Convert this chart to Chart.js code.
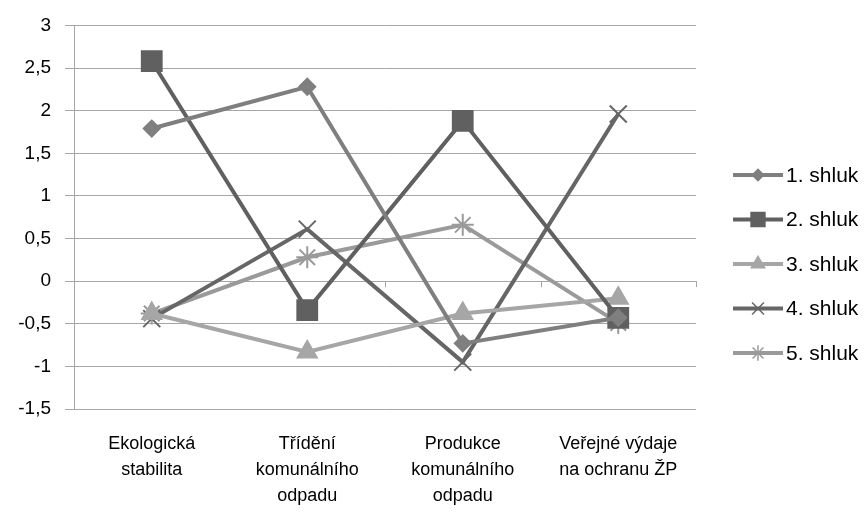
<!DOCTYPE html>
<html>
<head>
<meta charset="utf-8">
<script src="https://cdn.jsdelivr.net/npm/chart.js@4"></script>
<style>
  html, body { margin: 0; padding: 0; background: #fff; }
  #wrap { width: 866px; height: 513px; }
</style>
</head>
<body>
<div id="wrap"><canvas id="chart" width="866" height="513"></canvas></div>
<script>
// data
const categories = [
  ["Ekologická", "stabilita"],
  ["Třídění", "komunálního", "odpadu"],
  ["Produkce", "komunálního", "odpadu"],
  ["Veřejné výdaje", "na ochranu ŽP"]
];
const seriesNames = ["1. shluk", "2. shluk", "3. shluk", "4. shluk", "5. shluk"];
const shluk1 = [1.79, 2.28, -0.73, -0.43];
const shluk2 = [2.58, -0.34, 1.88, -0.43];
const shluk3 = [-0.38, -0.83, -0.38, -0.20];
const shluk4 = [-0.44, 0.61, -0.95, 1.96];
const shluk5 = [-0.38, 0.28, 0.66, -0.49];
const yTicks = [-1.5, -1, -0.5, 0, 0.5, 1, 1.5, 2, 2.5, 3];

const FONT = "'Liberation Sans', Arial, sans-serif";
const looks = [
  { color: "#7f7f7f", point: "rectRot", radius: 8 },
  { color: "#606060", point: "rect", radius: 14 },
  { color: "#a6a6a6", point: "triangle", radius: 11 },
  { color: "#666666", point: "crossRot", radius: 12 },
  { color: "#9a9a9a", point: "star", radius: 11 }
];
const values = [shluk1, shluk2, shluk3, shluk4, shluk5];

const datasets = values.map((data, i) => ({
  label: seriesNames[i],
  data,
  borderColor: looks[i].color,
  backgroundColor: looks[i].color,
  pointBorderColor: looks[i].color,
  pointBackgroundColor: looks[i].color,
  pointStyle: looks[i].point,
  pointRadius: looks[i].radius,
  pointBorderWidth: 2,
  borderWidth: 4,
  tension: 0
}));

// legend on the right: line with the marker in the middle, then the name
const sideLegend = {
  id: "sideLegend",
  afterDraw(chart) {
    const ctx = chart.ctx;
    const x0 = 733, x1 = 783, top = 175, gap = 44.5;
    ctx.save();
    chart.data.datasets.forEach((ds, i) => {
      const y = top + i * gap;
      ctx.strokeStyle = ds.borderColor;
      ctx.lineWidth = 4;
      ctx.beginPath();
      ctx.moveTo(x0, y);
      ctx.lineTo(x1, y);
      ctx.stroke();
      ctx.fillStyle = ds.pointBackgroundColor;
      ctx.strokeStyle = ds.pointBorderColor;
      ctx.lineWidth = 1.5;
      Chart.helpers.drawPoint(ctx, { pointStyle: ds.pointStyle, radius: ds.pointRadius * 0.7, borderWidth: 1.5 }, (x0 + x1) / 2, y);
      ctx.fillStyle = "#000";
      ctx.font = "21px " + FONT;
      ctx.textBaseline = "middle";
      ctx.textAlign = "left";
      ctx.fillText(ds.label, x1 + 3, y + 1);
    });
    ctx.restore();
  }
};

// small tick marks of the category axis, which crosses at zero
const zeroAxisTicks = {
  id: "zeroAxisTicks",
  beforeDatasetsDraw(chart) {
    const { ctx, chartArea, scales } = chart;
    const y = scales.y.getPixelForValue(0);
    const step = (chartArea.right - chartArea.left) / categories.length;
    ctx.save();
    ctx.strokeStyle = "#a6a6a6";
    ctx.lineWidth = 1;
    for (let k = 0; k <= categories.length; k++) {
      const x = Math.round(chartArea.left + k * step) + 0.5;
      ctx.beginPath();
      ctx.moveTo(x, y);
      ctx.lineTo(x, y + 6);
      ctx.stroke();
    }
    ctx.restore();
  }
};

new Chart(document.getElementById("chart"), {
  type: "line",
  data: { labels: categories, datasets },
  plugins: [sideLegend, zeroAxisTicks],
  options: {
    responsive: false,
    animation: false,
    layout: { padding: { top: 14, right: 170, bottom: 0, left: 0 } },
    plugins: { legend: { display: false }, tooltip: { enabled: false } },
    scales: {
      x: {
        offset: true,
        grid: { display: false, drawTicks: false },
        border: { display: false },
        ticks: {
          color: "#000",
          font: { family: FONT, size: 18, lineHeight: 1.45 },
          padding: 22,
          maxRotation: 0,
          autoSkip: false
        },
        afterFit(scale) { scale.height = 104; }
      },
      y: {
        min: -1.5,
        max: 3,
        afterBuildTicks(scale) { scale.ticks = yTicks.map(v => ({ value: v })); },
        grid: { color: "#a6a6a6", lineWidth: 1, tickLength: 9 },
        border: { color: "#a6a6a6", width: 1 },
        ticks: {
          color: "#000",
          font: { family: FONT, size: 19 },
          padding: 14,
          callback: v => String(v).replace(".", ",")
        },
        afterFit(scale) { scale.width = 74; }
      }
    }
  }
});
</script>
</body>
</html>
